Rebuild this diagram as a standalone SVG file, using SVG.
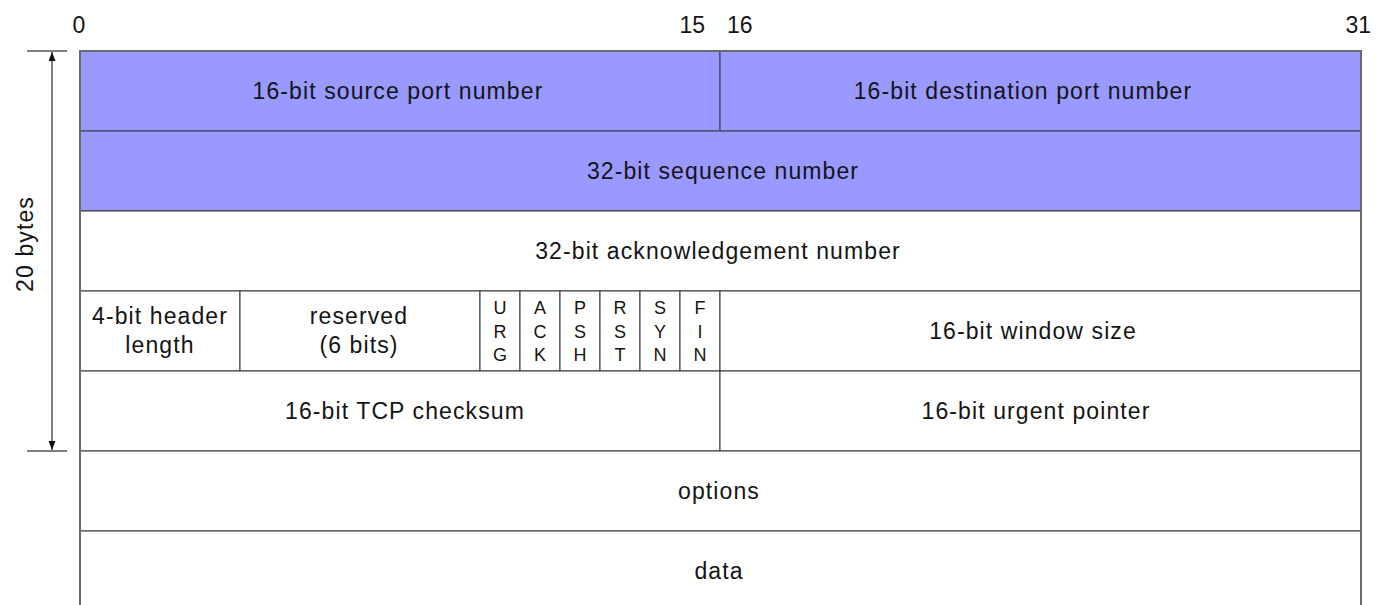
<svg xmlns="http://www.w3.org/2000/svg" width="1376" height="605" viewBox="0 0 1376 605">
  <style>
    text { font-family: "Liberation Sans", Arial, sans-serif; fill: #141414; }
    .lbl { font-size: 23px; letter-spacing: 1.1px; text-anchor: middle; }
    .flag { font-size: 18px; text-anchor: middle; }
    .bit { font-size: 23px; }
    .hdr { fill: #9999ff; stroke: #4a4a66; stroke-width: 1.3; }
    .cell { fill: #ffffff; stroke: #333333; stroke-width: 1; }
    .dim { stroke: #555555; stroke-width: 1.5; fill: none; }
  </style>
  <defs>
    <marker id="arrow" viewBox="0 0 10 10" refX="10" refY="5" markerWidth="9" markerHeight="7" markerUnits="userSpaceOnUse" orient="auto-start-reverse" preserveAspectRatio="none">
      <path d="M0,0 L10,5 L0,10 z" fill="#111111"/>
    </marker>
  </defs>

  <rect width="1376" height="605" fill="#ffffff"/>

  <!-- bit positions -->
  <g id="bit-scale">
    <text class="bit" x="79" y="33" text-anchor="middle">0</text>
    <text class="bit" x="705" y="33" text-anchor="end">15</text>
    <text class="bit" x="727" y="33">16</text>
    <text class="bit" x="1371" y="33" text-anchor="end">31</text>
  </g>

  <!-- header size dimension -->
  <g id="header-size">
    <line class="dim" x1="27" y1="51" x2="67" y2="51"/>
    <line class="dim" x1="27" y1="451" x2="67" y2="451"/>
    <line class="dim" x1="52" y1="52" x2="52" y2="450" marker-start="url(#arrow)" marker-end="url(#arrow)"/>
    <text class="lbl" transform="translate(33,244) rotate(-90)" x="0" y="0">20 bytes</text>
  </g>

  <!-- row 1 -->
  <g id="source-port">
    <rect class="hdr" x="80" y="51" width="640" height="80"/>
    <text class="lbl" x="398" y="98.5">16-bit source port number</text>
  </g>
  <g id="destination-port">
    <rect class="hdr" x="720" y="51" width="641" height="80"/>
    <text class="lbl" x="1023" y="98.5">16-bit destination port number</text>
  </g>

  <!-- row 2 -->
  <g id="sequence-number">
    <rect class="hdr" x="80" y="131" width="1281" height="80"/>
    <text class="lbl" x="723" y="178.5">32-bit sequence number</text>
  </g>

  <!-- row 3 -->
  <g id="ack-number">
    <rect class="cell" x="80" y="211" width="1281" height="80"/>
    <text class="lbl" x="718" y="258.5">32-bit acknowledgement number</text>
  </g>

  <!-- row 4 -->
  <g id="header-length">
    <rect class="cell" x="80" y="291" width="160" height="80"/>
    <text class="lbl" x="160" y="324">4-bit header</text>
    <text class="lbl" x="160" y="353">length</text>
  </g>
  <g id="reserved">
    <rect class="cell" x="240" y="291" width="240" height="80"/>
    <text class="lbl" x="359" y="324">reserved</text>
    <text class="lbl" x="359" y="353">(6 bits)</text>
  </g>
  <g id="flag-urg">
    <rect class="cell" x="480" y="291" width="40" height="80"/>
    <text class="flag" x="500" y="314">U</text>
    <text class="flag" x="500" y="337.5">R</text>
    <text class="flag" x="500" y="361">G</text>
  </g>
  <g id="flag-ack">
    <rect class="cell" x="520" y="291" width="40" height="80"/>
    <text class="flag" x="540" y="314">A</text>
    <text class="flag" x="540" y="337.5">C</text>
    <text class="flag" x="540" y="361">K</text>
  </g>
  <g id="flag-psh">
    <rect class="cell" x="560" y="291" width="40" height="80"/>
    <text class="flag" x="580" y="314">P</text>
    <text class="flag" x="580" y="337.5">S</text>
    <text class="flag" x="580" y="361">H</text>
  </g>
  <g id="flag-rst">
    <rect class="cell" x="600" y="291" width="40" height="80"/>
    <text class="flag" x="620" y="314">R</text>
    <text class="flag" x="620" y="337.5">S</text>
    <text class="flag" x="620" y="361">T</text>
  </g>
  <g id="flag-syn">
    <rect class="cell" x="640" y="291" width="40" height="80"/>
    <text class="flag" x="660" y="314">S</text>
    <text class="flag" x="660" y="337.5">Y</text>
    <text class="flag" x="660" y="361">N</text>
  </g>
  <g id="flag-fin">
    <rect class="cell" x="680" y="291" width="40" height="80"/>
    <text class="flag" x="700" y="314">F</text>
    <text class="flag" x="700" y="337.5">I</text>
    <text class="flag" x="700" y="361">N</text>
  </g>
  <g id="window-size">
    <rect class="cell" x="720" y="291" width="641" height="80"/>
    <text class="lbl" x="1033" y="338.5">16-bit window size</text>
  </g>

  <!-- row 5 -->
  <g id="checksum">
    <rect class="cell" x="80" y="371" width="640" height="80"/>
    <text class="lbl" x="405" y="418.5">16-bit TCP checksum</text>
  </g>
  <g id="urgent-pointer">
    <rect class="cell" x="720" y="371" width="641" height="80"/>
    <text class="lbl" x="1036" y="418.5">16-bit urgent pointer</text>
  </g>

  <!-- options and data -->
  <g id="options">
    <rect class="cell" x="80" y="451" width="1281" height="80"/>
    <text class="lbl" x="719" y="498.5">options</text>
  </g>
  <g id="data">
    <path class="cell" d="M80,606 L80,531 L1361,531 L1361,606"/>
    <text class="lbl" x="719" y="579">data</text>
  </g>

  <!-- outer frame -->
  <g id="frame">
    <path d="M80,606 L80,51 L1361,51 L1361,606" fill="none" stroke="#6a6a6a" stroke-width="2"/>
  </g>
</svg>
